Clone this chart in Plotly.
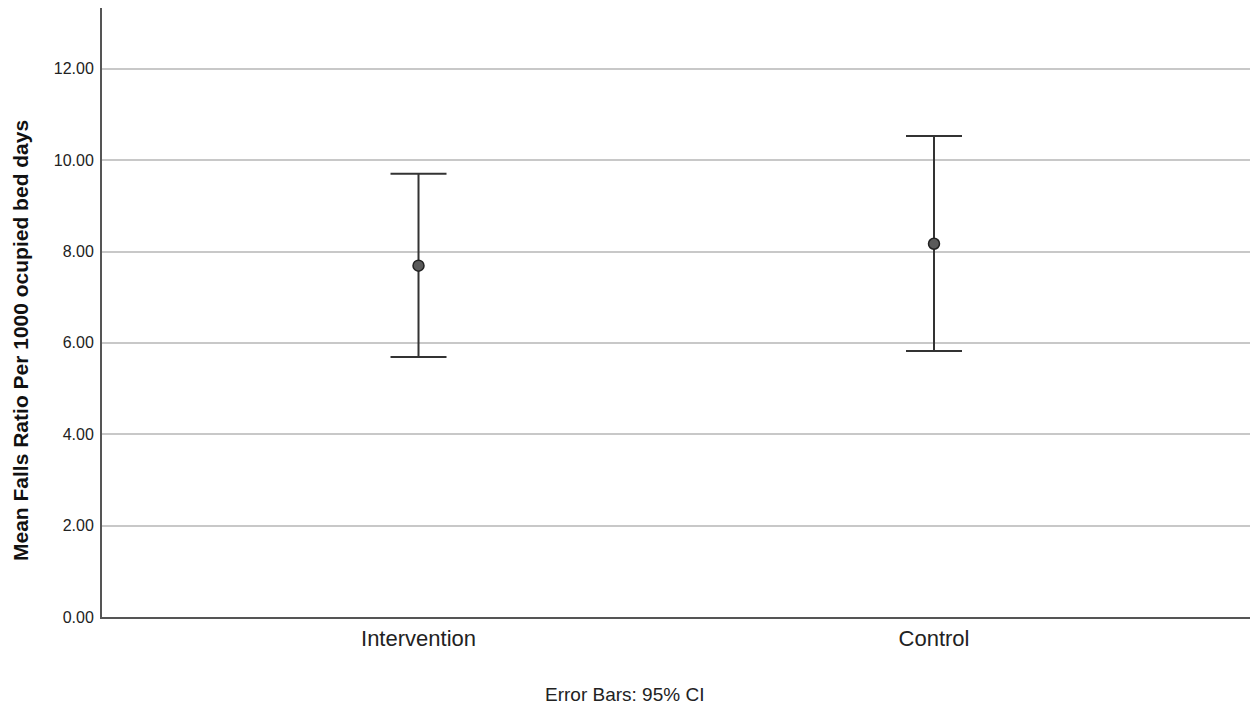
import plotly.graph_objects as go

categories = ["Intervention", "Control"]
means = [7.69, 8.17]
upper = [9.70, 10.53]
lower = [5.69, 5.82]
y_ticks = [0, 2, 4, 6, 8, 10, 12]

err_plus = [u - m for u, m in zip(upper, means)]
err_minus = [m - l for m, l in zip(means, lower)]

fig = go.Figure()
fig.add_trace(go.Scatter(
    x=categories, y=means, mode="markers",
    marker=dict(size=11, color="#5a5a5a", line=dict(width=1.5, color="#222222")),
    error_y=dict(type="data", symmetric=False, array=err_plus, arrayminus=err_minus,
                 color="#333333", thickness=2, width=28),
    showlegend=False,
))

font = "Liberation Sans, Arial, sans-serif"
fig.update_layout(
    width=1250, height=709,
    margin=dict(l=102, r=0, t=8, b=92),
    paper_bgcolor="white", plot_bgcolor="white",
    font=dict(family=font, color="#222222"),
    xaxis=dict(
        type="category", range=[-0.614, 1.613],
        showgrid=False, showline=True, linecolor="#555555", linewidth=2,
        ticks="", ticklabelstandoff=1, tickfont=dict(size=22, color="#222222"), zeroline=False,
    ),
    yaxis=dict(
        range=[0, 13.33], tickvals=y_ticks, tickformat=".2f",
        showgrid=True, gridcolor="#c8c8c8", gridwidth=2,
        showline=True, linecolor="#555555", linewidth=2,
        ticks="", ticklabelstandoff=3, tickfont=dict(size=16, color="#222222"),
        zeroline=False,
    ),
    annotations=[
        dict(text="Mean Falls Ratio Per 1000 ocupied bed days", x=0, y=0,
             xref="paper", yref="paper", showarrow=False, textangle=-90,
             font=dict(size=21, family=font, color="#111111", weight="bold"),
             xanchor="center", yanchor="middle"),
        dict(text="Error Bars: 95% CI", x=0, y=0, xref="paper", yref="paper",
             showarrow=False, font=dict(size=19, family=font, color="#222222"),
             xanchor="center", yanchor="middle"),
    ],
)
plot_h = 709 - 8 - 92
plot_w = 1250 - 102
fig.layout.annotations[0].x = (20 - 102) / plot_w
fig.layout.annotations[0].y = (617 - 341) / plot_h
fig.layout.annotations[1].x = (624 - 102) / plot_w
fig.layout.annotations[1].y = (617 - 694) / plot_h

fig.write_html("out.html")
